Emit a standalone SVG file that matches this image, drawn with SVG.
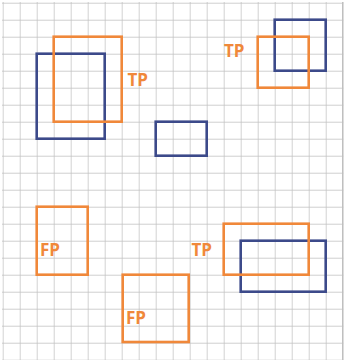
<svg xmlns="http://www.w3.org/2000/svg" width="356" height="360" viewBox="0 0 356 360">
<defs>
<style>
.gt{fill:none;stroke:#3c4a8a;stroke-width:2.6}
.pr{fill:none;stroke:#f0883a;stroke-width:2.6}
.lb{font-family:"Open Sans","Liberation Sans",sans-serif;font-weight:bold;font-size:17px;fill:#f0883a}
</style>
<pattern id="g" x="2.7" y="2.7" width="17" height="17" patternUnits="userSpaceOnUse">
<path d="M0 0H17M0 0V17" fill="none" stroke="#bfbfbf" stroke-width="1.4"/>
</pattern>
</defs>
<rect width="356" height="360" fill="#ffffff"/>
<g id="grid">
<rect x="2" y="2" width="341.4" height="358" fill="url(#g)"/>
<line x1="342.7" y1="2" x2="342.7" y2="360" stroke="#bfbfbf" stroke-width="1.4"/>
</g>
<g id="ground-truth">
<rect class="gt" x="36.7" y="53.7" width="68" height="85"/>
<rect class="gt" x="155.7" y="121.7" width="51" height="34"/>
<rect class="gt" x="274.7" y="19.7" width="51" height="51"/>
<rect class="gt" x="240.7" y="240.7" width="85" height="51"/>
</g>
<g id="predictions">
<g id="p1"><rect class="pr" x="53.7" y="36.7" width="68" height="85"/><text class="lb" x="127.5" y="85.5">TP</text></g>
<g id="p2"><rect class="pr" x="257.7" y="36.7" width="51" height="51"/><text class="lb" x="224" y="57.3">TP</text></g>
<g id="p3"><rect class="pr" x="223.7" y="223.7" width="85" height="51"/><text class="lb" x="191.5" y="255.7">TP</text></g>
<g id="p4"><rect class="pr" x="36.7" y="206.7" width="51" height="68"/><text class="lb" x="40" y="256">FP</text></g>
<g id="p5"><rect class="pr" x="122.7" y="274.7" width="66" height="67.3"/><text class="lb" x="126" y="323.7">FP</text></g>
</g>
</svg>
